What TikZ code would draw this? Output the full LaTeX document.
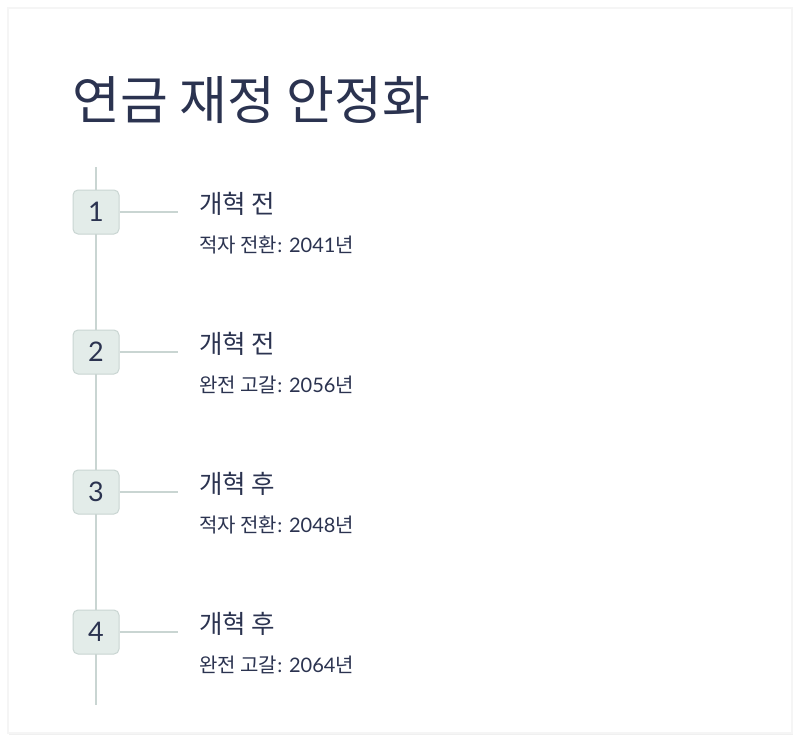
\documentclass[tikz,border=0pt]{standalone}
\usepackage{fontspec}
\setmainfont{Lato}
\newfontfamily\kr{Noto Sans CJK KR}
\definecolor{ink}{HTML}{2B3350}
\definecolor{linec}{HTML}{C9D5D2}
\definecolor{boxfill}{HTML}{E3ECE9}
\definecolor{shadowc}{HTML}{E6E6E6}
\tikzset{
  titletext/.style={anchor=base west, inner sep=0pt, text=ink, font=\kr\fontsize{52}{60}\selectfont},
  headtext/.style={anchor=base west, inner sep=0pt, text=ink, font=\kr\fontsize{25.5}{30}\selectfont},
  subtext/.style={anchor=base west, inner sep=0pt, text=ink, font=\fontsize{20}{24}\selectfont},
  numbox/.style={draw=linec, line width=1pt, fill=boxfill, rounded corners=5pt, minimum width=46pt, minimum height=44pt, inner sep=0pt, text=ink, font=\fontsize{27}{30}\selectfont},
  rail/.style={draw=linec, line width=2pt},
  tick/.style={draw=linec, line width=2pt}
}
\begin{document}
\begin{tikzpicture}[x=1pt,y=-1pt]
\useasboundingbox (0,0) rectangle (800,741);
\fill[white] (0,0) rectangle (800,741);
% card with faint shadow
\fill[shadowc!60] (9,10) rectangle (793,735);
\fill[shadowc!40] (7,7) rectangle (793,734);
\fill[white] (9,9) rectangle (791,732);
\node[titletext] (title) at (72,120) {연금 재정 안정화};
\coordinate (railtop) at (96,167);
\coordinate (railbot) at (96,705);
\draw[rail] (railtop) -- (railbot);
\foreach \i/\y/\h/\s/\n in {1/212/개혁 전/적자 전환/2041, 2/352/개혁 전/완전 고갈/2056, 3/492/개혁 후/적자 전환/2048, 4/632/개혁 후/완전 고갈/2064}{
  \node[numbox] (b\i) at (96,\y) {\i};
  \coordinate (t\i) at (178,\y);
  \draw[tick] (b\i.east) -- (t\i);
  \node[headtext] (h\i) at (199,\y+1) {\h};
  \node[subtext] (s\i) at (199,\y+40) {{\kr\s}: \n{\kr 년}};
}
\end{tikzpicture}
\end{document}
